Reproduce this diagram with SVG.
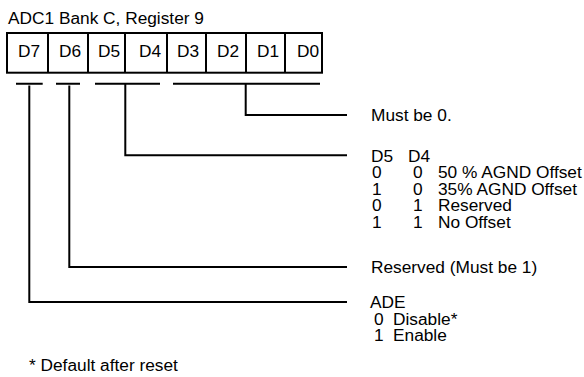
<svg xmlns="http://www.w3.org/2000/svg" width="584" height="377" viewBox="0 0 584 377">
<style>
text{font-family:"Liberation Sans",Arial,sans-serif;font-size:17.3px;fill:#000}
.box{fill:#fff;stroke:#000;stroke-width:2}
.ln{fill:none;stroke:#000;stroke-width:2}
</style>
<rect width="584" height="377" fill="#fff"/>
<g id="title"><text x="8" y="24">ADC1 Bank C, Register 9</text></g>
<g id="register">
<rect class="box" x="7" y="33" width="315" height="39.7"/>
<path class="ln" d="M48 33V72.7M88 33V72.7M125 33V72.7M167 33V72.7M206 33V72.7M246 33V72.7M285 33V72.7"/>
<text x="18" y="56.5">D7</text>
<text x="59" y="56.5">D6</text>
<text x="98" y="56.5">D5</text>
<text x="139" y="56.5">D4</text>
<text x="177" y="56.5">D3</text>
<text x="217" y="56.5">D2</text>
<text x="257" y="56.5">D1</text>
<text x="297" y="56.5">D0</text>
</g>
<g id="connectors" class="ln">
<path d="M16 83.7H42.7M56 83.7H80M95 83.7H160M173 83.7H320"/>
<path d="M29.3 85.5V302H347"/>
<path d="M69.3 85.5V267H347"/>
<path d="M125.3 83.7V155.3H347"/>
<path d="M245.7 83.7V115H347"/>
</g>
<g id="label-d3d0"><text x="371" y="121">Must be 0.</text></g>
<g id="label-d5d4">
<text x="371" y="161.5">D5</text><text x="408" y="161.5">D4</text>
<text x="372" y="178">0</text><text x="413" y="178">0</text><text x="438" y="178">50 % AGND Offset</text>
<text x="372" y="194.5">1</text><text x="413" y="194.5">0</text><text x="438" y="194.5">35% AGND Offset</text>
<text x="372" y="211">0</text><text x="413" y="211">1</text><text x="438" y="211">Reserved</text>
<text x="372" y="227.5">1</text><text x="413" y="227.5">1</text><text x="438" y="227.5">No Offset</text>
</g>
<g id="label-d6"><text x="371" y="273">Reserved (Must be 1)</text></g>
<g id="label-d7">
<text x="370" y="308">ADE</text>
<text x="374" y="324.5">0</text><text x="393" y="324.5">Disable*</text>
<text x="374" y="341">1</text><text x="393" y="341">Enable</text>
</g>
<g id="footnote"><text x="29" y="371">* Default after reset</text></g>
</svg>
